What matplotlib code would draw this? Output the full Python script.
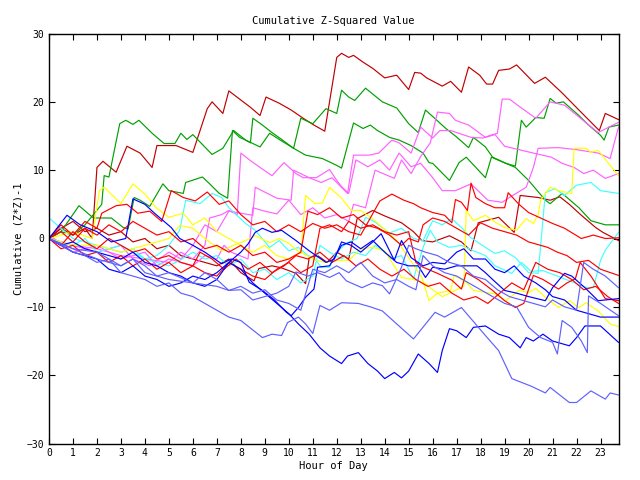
import matplotlib
matplotlib.use('Agg')
import matplotlib.pyplot as plt

# (hour, cumulative value), one list per day-line
darkred_a = [(0, 0), (0.5, 1.5), (1, 0.5), (1.5, 1.5), (1.8, 0), (2.0, 10.4), (2.25, 11.3), (2.8, 9.7), (3.25, 13.5),
             (3.8, 12.5), (4.3, 10.4), (4.5, 13.6), (5.3, 13.6), (6.0, 12.6), (6.6, 19), (6.8, 20), (7.25, 18.3),
             (7.5, 21.6), (8.4, 19.2), (8.8, 18), (9.05, 20.7), (9.6, 19.8), (10.1, 18.8), (10.6, 17.6), (11, 16.7),
             (11.5, 15.7), (12, 26.5), (12.2, 27.1), (12.5, 26.5), (12.7, 26.8), (13.1, 25.8), (13.5, 24.9), (14, 23.5),
             (14.5, 23.9), (15, 21.8), (15.25, 24.3), (15.5, 24.2), (15.75, 23.5), (16.4, 22.3), (16.75, 23),
             (17.2, 21.4), (17.5, 25.1), (17.96, 23.9), (18.25, 22.6), (18.5, 22.6), (18.75, 24.6), (19.2, 24.8),
             (19.5, 25.4), (20.25, 22.7), (20.7, 23.6), (21.4, 21.3), (22.1, 18.8), (22.95, 15.8), (23.2, 18.3),
             (23.75, 17.4)]
darkred_b = [(0, 0), (0.5, 1.5), (1, 2.5), (1.5, 1), (2, 1.5), (2.5, 0.5), (3, 1), (3.5, -0.5), (4, 0), (4.5, -1.5),
             (5, -1), (5.5, -2.5), (6, -3), (6.5, -3.5), (7, -4), (7.5, -3), (8, -5), (8.55, -6.2), (8.75, -4.4),
             (9.3, -4), (9.7, -4.3), (10.3, -5.1), (10.7, -6.6), (10.85, -2.8), (11.2, -2.5), (11.6, -3.5), (12, -2),
             (12.5, -3), (12.85, 2.9), (13.5, 4.1), (14, 3.3), (14.7, 2.3), (15.2, 1), (15.55, -0.3), (16, -0.5),
             (16.7, 0.4), (17.2, -0.5), (17.6, -1.8), (17.9, 2.3), (18.75, 3.1), (19.4, 0.9), (19.65, 6.3), (20.4, 6),
             (20.9, 5.6), (21.3, 6.1), (21.7, 5), (22.2, 3.4), (22.8, 1.6), (23.1, 0.9), (23.75, -0.3)]
green_a = [(0, 0), (0.5, 1), (1, 0.5), (1.5, 2), (2.2, 5), (2.3, 9.2), (2.5, 9), (2.95, 16.8), (3.2, 17.3),
           (3.5, 16.7), (3.75, 17.3), (4.3, 15.4), (4.8, 13.9), (5.25, 13.9), (5.5, 15.4), (5.75, 14.5), (6, 15.2),
           (6.8, 12.3), (7.25, 13.2), (7.7, 15.8), (8.2, 14.4), (8.4, 14), (8.5, 17.6), (8.9, 16.6), (9.3, 15.5),
           (9.7, 14.5), (10.2, 13.2), (10.5, 17.6), (11, 16.8), (11.55, 19), (12, 18.3), (12.2, 21.7), (12.5, 20.7),
           (12.75, 20.2), (13.2, 22), (13.9, 20), (14.5, 19.1), (15, 16.8), (15.4, 15.5), (15.7, 18.8), (16.05, 17.7),
           (16.55, 16.1), (16.95, 15), (17.5, 13.3), (17.7, 14.8), (18.2, 13.4), (18.5, 11.9), (19.05, 11),
           (19.45, 10.6), (19.7, 17.3), (19.9, 16.3), (20.3, 17.7), (20.65, 17.6), (20.9, 20.5), (21.15, 19.8),
           (21.45, 20), (22.1, 18), (22.5, 16.6), (23, 15.1), (23.15, 14.4), (23.35, 16.3), (23.75, 16.6)]
green_b = [(0, 0), (0.5, 1), (1.25, 4.8), (1.85, 3), (2.1, 3), (2.6, 3), (3.1, 1.6), (3.3, 1.4), (3.55, 6), (3.8, 5.6),
           (4.2, 4.7), (4.75, 8), (5, 7), (5.6, 6.6), (5.7, 8.2), (6.4, 9), (6.7, 8), (7.1, 6.6), (7.45, 5.9),
           (7.65, 15.8), (7.95, 14.8), (8.2, 14.4), (8.8, 13.4), (9.2, 15.4), (9.6, 14.5), (10.2, 13.2), (10.7, 12.2),
           (11.4, 11.7), (12, 10.7), (12.2, 10.3), (12.7, 16.9), (13.1, 16.1), (13.4, 16.6), (13.7, 15.8), (14.2, 14.8),
           (14.6, 14.4), (15.1, 13.6), (15.6, 12.5), (15.85, 11.1), (16, 11), (16.7, 8.5), (17.1, 11.1), (17.4, 11.9),
           (18.2, 8.9), (18.45, 11.9), (19.05, 11), (19.45, 10.4), (20, 8.5), (20.7, 5.6), (20.9, 5.1), (21.4, 6.6),
           (22.1, 4.5), (22.6, 2.6), (23.2, 2), (23.75, 2)]
magenta_a = [(0, 0), (1, -1), (2, -2), (3, -1), (3.5, -3), (4.2, -4), (5, -2), (5.5, -3), (6, -1), (6.5, 2), (7, 1),
             (7.5, 4), (8.5, 3.4), (8.6, 7.5), (9.5, 5.9), (10.1, 5.6), (10.2, 10), (10.85, 8.9), (11.35, 8.2),
             (11.8, 8.9), (12.45, 6.6), (12.7, 12.2), (13.35, 12.2), (13.75, 12.5), (14.3, 14.4), (14.6, 14),
             (15.1, 12.5), (15.5, 16.3), (16, 14.7), (16.3, 15.8), (16.75, 15.8), (17.6, 14.8), (18.1, 14.7),
             (18.4, 15.1), (18.7, 15.4), (18.9, 20.4), (19.2, 20.4), (19.7, 19.1), (20.3, 17.6), (20.9, 20),
             (21.5, 19.5), (22.2, 17.5), (22.9, 15.5), (23.75, 17)]
magenta_b = [(0, 0), (1, -1), (2, -1.5), (3, -2.5), (4, -3), (5, -3.5), (5.5, -2), (6, -3), (6.5, -1), (6.7, 3),
             (7.2, 3.5), (7.5, 4.1), (7.85, 3.5), (8, 12.5), (8.4, 11.4), (8.8, 10.4), (9.3, 9.2), (9.8, 11.1),
             (10.3, 9.5), (10.6, 8.9), (11.15, 8.9), (11.7, 10.1), (12, 8.5), (12.2, 7.6), (12.5, 6.6), (12.8, 11.5),
             (13.3, 10.5), (13.8, 11.5), (14.2, 10), (14.6, 12.5), (15.1, 10.5), (15.5, 11), (16, 8.9), (16.4, 7),
             (16.95, 7), (17.6, 8), (18.3, 5.6), (18.9, 5.3), (19.2, 6), (19.9, 7.5), (20.2, 10.4), (20.4, 13.2),
             (21.25, 13.3), (22, 13), (22.9, 12.5), (23.4, 11.7), (23.75, 16.3)]
magenta_c = [(0, 0.5), (1, -2), (2, -1), (3, -3), (4, -2), (4.5, -4), (5, -3), (6, -4), (6.5, -2.5), (7, -3),
             (7.3, -1), (7.6, -2), (8.3, -3), (8.5, 4.5), (9, 4), (9.5, 3.6), (10, 5.6), (10.5, 3.5), (11, 4.5),
             (11.5, 3), (12, 3.5), (12.5, 2.5), (12.7, 5), (13.2, 4.5), (13.6, 10), (14, 9.4), (14.4, 8.8),
             (14.7, 11.5), (15.1, 9.5), (15.5, 12), (15.9, 14), (16.2, 18.5), (16.7, 18.3), (16.95, 17.3), (17.5, 16.6),
             (18.2, 14.8), (18.6, 15.2), (19, 13.5), (19.6, 13), (20.2, 12.5), (20.95, 11.9), (21.4, 11), (21.9, 10.4),
             (22.3, 9.5), (22.7, 10), (23.2, 8.8), (23.75, 9.5)]
cyan_a = [(0, 3), (0.5, 1.5), (1, 0), (2, -1), (3, -2), (3.5, -1.5), (4, -3), (4.5, -2.5), (5, -1), (5.45, 1.2),
          (5.7, 5.6), (6.3, 5.1), (6.8, 6.6), (7.2, 6), (7.5, 4.5), (8.2, 2.2), (8.6, 1.2), (9.2, -1.3), (9.6, -0.3),
          (10, -1.8), (10.4, -1.3), (10.8, -2.5), (11.05, -2.8), (11.35, -4.2), (11.7, -4.2), (12, -2), (12.4, -0.7),
          (12.85, 0), (13.2, 3.1), (13.6, 2.4), (14.2, 0.8), (14.7, 1.5), (15.2, 0), (15.6, -0.3), (16, 2.6),
          (16.4, 2), (16.8, 2.9), (17.2, 1.6), (17.6, 0.1), (18.2, -1.3), (18.6, -2.2), (19, -1.8), (19.45, -2.8),
          (20, -5), (20.4, -5.1), (20.7, 6.7), (21.1, 7.3), (21.5, 6.3), (22, 7.8), (22.6, 8.2), (23, 7),
          (23.75, 6.6)]
cyan_b = [(0, 0), (1, -1), (1.5, 0), (2, -2), (3, -1), (4, -3), (5, -4), (5.45, -3.2), (6, -2), (6.5, -3), (7, -2.5),
          (7.5, -4), (8, -3), (8.5, -5), (9, -4.5), (9.5, -6), (10, -5), (10.5, -6.5), (11, -5.5), (11.3, -1),
          (11.7, -2), (12.2, -3), (12.7, -2), (13.2, -2.5), (13.6, -1), (14, -2), (14.25, -3), (14.7, -2.5),
          (15.2, -5.9), (15.6, -1.3), (15.9, 1.2), (16.2, -0.5), (16.7, -1.3), (17.2, -1), (17.7, -1.8), (18.2, -2.5),
          (18.6, -4), (19.3, -5.1), (19.7, -3.5), (20.1, -4.8), (20.6, -4.7), (21.2, -5.5), (22, -6.6), (22.4, -7.2),
          (22.7, -7.2), (23, -3.2), (23.2, -1.7), (23.75, 0.9)]
yellow_a = [(0, 0), (1, 1), (1.8, 0), (2.1, 7), (2.3, 7.5), (3, 5.1), (3.5, 8), (4, 6.5), (4.5, 4.4), (5, 3.1),
            (5.6, 3.7), (6, 2), (6.5, 3), (7, 1), (7.5, 0), (8, -1), (8.5, -2), (9, -1), (9.5, -2.5), (10, -3),
            (10.5, -2), (11, -3), (11.5, -3.5), (12, -3.2), (12.5, -3.2), (13, -1.5), (13.5, -1.3), (14, -1.8),
            (14.7, -5.7), (15.2, -6), (15.7, -6.6), (16, -7.5), (16.4, -8.5), (17.3, -7), (17.4, 4.1), (17.7, 2.6),
            (18.2, 3.4), (18.6, 2.4), (19, 1.6), (19.5, 1.2), (19.9, 2.9), (20.2, 2.2), (20.4, 3.5), (20.5, 5.6),
            (20.9, 7.5), (21.25, 7), (21.8, 6.6), (21.9, 13.2), (22.4, 13.2), (22.6, 12.6), (22.9, 12.9),
            (23.75, 9.2)]
yellow_b = [(0, 0), (1, -1), (2, -1), (3, -2), (4, -1), (5, 0), (5.45, 1.9), (6, 1.5), (6.5, 0), (7.2, -1.8),
            (7.7, -1), (8.2, -0.3), (8.6, 0.4), (9.2, -0.6), (9.6, 0), (10, -0.7), (10.5, -2.2), (10.7, 6.3),
            (11.1, 5.1), (11.4, 5.2), (11.7, 7.5), (12.2, 5.9), (12.6, 4.1), (13, 4.1), (13.6, 2.6), (14.5, -0.3),
            (15, -2.8), (15.55, -5.7), (15.85, -9.1), (16.2, -8), (16.75, -7.6), (16.9, -5.4), (17.4, -6.4),
            (17.7, -7.6), (18.6, -8.1), (19.05, -9.1), (19.6, -7.6), (20, -7.9), (20.3, -7.3), (20.7, -8.6),
            (21.25, -10.1), (21.7, -9.1), (22.1, -10.1), (22.4, -9.4), (22.9, -10.6), (23.4, -12.5), (23.75, -12.9)]
red_a = [(0, 0), (0.5, 2), (1, 0.5), (1.5, 2.5), (2, 1.5), (2.2, 3.7), (2.8, 4.8), (3.25, 5), (3.7, 3.7), (4.2, 4),
         (4.7, 2.5), (5.1, 7), (5.6, 6), (6.1, 5.5), (6.6, 6.8), (7.1, 5), (7.5, 5.5), (8, 3.5), (8.5, 2), (9, 2.5),
         (9.5, 1), (10, 2), (10.5, 1), (11, 2.2), (11.5, 1.5), (12, 2), (12.5, 1), (13, 0.5), (13.4, 3), (13.8, 5.5),
         (14.3, 6.5), (14.8, 5.6), (15.2, 5.1), (15.5, 4.5), (16, 3.8), (16.5, 3.4), (16.8, 2.3), (16.95, 5.7),
         (17.2, 5.3), (17.45, 4.1), (17.6, 8.1), (17.8, 6), (18.2, 5.1), (18.6, 4.5), (19, 4.5), (19.15, 6.7),
         (19.6, 5), (20, 3.8), (20.5, 3), (21, 2.2), (21.5, 1.5), (22.2, 0), (22.7, 0.5), (23.2, 0), (23.75, 0.1)]
red_b = [(0, 0), (0.5, -1), (1, 1), (1.5, -0.5), (2, -1.5), (2.5, 0), (3, -1), (3.5, -2), (4, -1.5), (4.5, -3),
         (5, -2.5), (5.5, -3.5), (6, -4), (6.5, -5), (7, -5.5), (7.5, -3.5), (8, -4.5), (8.5, -5.5), (9, -6),
         (9.5, -4.5), (10, -3.5), (10.5, -5), (11, -4), (11.3, 1.5), (11.7, 2), (12.2, 1), (12.5, 2.5), (13, 1.5),
         (13.5, 2), (14, 1), (14.5, 0.5), (15, 1), (15.3, -3.5), (15.6, -4.2), (16.2, -5.1), (16.8, -6.1),
         (17.2, -7.4), (17.4, -5), (17.9, -6), (18.5, -7.6), (19, -9.1), (19.45, -10.1), (19.8, -9.5), (20.2, -5.4),
         (20.6, -6), (21.25, -7.4), (21.6, -6.5), (21.95, -5.9), (22.15, -3.5), (22.6, -5.5), (23.2, -8.8),
         (23.75, -9.1)]
red_c = [(0, 0), (0.5, 1), (1, -0.5), (1.5, 1.5), (2, 0.5), (2.5, 2), (3, 1), (3.5, 2.5), (4, 1.5), (4.5, 0.5),
         (5, 1), (5.5, -0.5), (6, 0), (6.5, -1.5), (7, -1), (7.5, -2), (8, -1), (8.5, -2.5), (9, -2), (9.5, -3.5),
         (10, -3), (10.5, -2), (10.8, 4), (11.2, 3.5), (11.7, 4.5), (12.2, 3), (12.7, 3.5), (13.2, 2), (13.7, 1.5),
         (14.2, 0.5), (14.7, -1), (15, 0), (15.4, -0.5), (15.6, 2), (16, 3), (16.5, 2.5), (17, 1.5), (17.5, 0.5),
         (18, 2.3), (18.5, 1.5), (19, 1), (19.5, 0.5), (20, -0.5), (20.5, -1), (20.8, -1.3), (21.2, -2),
         (21.6, -2.5), (22, -3.5), (22.5, -3.2), (23, -4.5), (23.75, -5.4)]
red_d = [(0, 0), (0.5, -1.5), (1, -1), (1.5, -2.5), (2, -2), (2.5, -3.5), (3, -2.5), (3.5, -4), (4, -3), (4.5, -4.5),
         (5, -3.5), (5.5, -5), (6, -4), (6.3, -2), (6.8, -3), (7.3, -4.5), (7.8, -3), (8.3, -4.5), (8.8, -3.5),
         (9.3, -5), (9.8, -4), (10.3, -2.5), (10.8, -3), (11.3, -2), (11.8, -3.5), (12.3, -2.5), (12.8, -4),
         (13.3, -3), (13.8, -4.5), (14.3, -5.5), (14.8, -4.5), (15.3, -6), (15.8, -7), (16.3, -6.5), (16.8, -8),
         (17.3, -9), (17.8, -8.5), (18.3, -9.5), (18.8, -8), (19.3, -6.5), (19.8, -7.5), (20.3, -3.5), (20.8, -4.5),
         (21.3, -5), (21.8, -6), (22.3, -7.5), (22.8, -7), (23.3, -8.5), (23.75, -9.5)]
blue_a = [(0, 0), (0.5, -1), (1, -2), (1.5, -2.5), (2, -3), (2.5, -4.5), (3, -5), (3.5, -4), (4, -5.5), (4.5, -6),
          (5, -7), (5.5, -6.5), (6, -5.5), (6.5, -6), (7, -5), (7.5, -3.5), (8, -4.5), (8.5, -6.5), (9, -8),
          (9.5, -9.5), (10, -11), (10.4, -12.5), (10.85, -14), (11.3, -16), (11.7, -17.2), (12.2, -18.3),
          (12.45, -17.2), (12.9, -16.7), (13.3, -18.3), (13.7, -19.4), (14, -20.5), (14.4, -19.6), (14.7, -20.4),
          (15, -19.4), (15.4, -16.9), (15.85, -18.3), (16.2, -19.6), (16.4, -16.4), (16.7, -13.2), (17, -13.5),
          (17.4, -14.5), (17.7, -13), (18.2, -12.8), (18.75, -14), (19.2, -14.5), (19.65, -16), (19.9, -14.5),
          (20.2, -15), (20.6, -14), (21, -15), (21.7, -15.7), (22, -14.5), (22.35, -12.8), (23, -12.8),
          (23.75, -15.2)]
blue_b = [(0, 0), (0.75, 3.4), (1.3, 2), (2, 1), (2.6, -0.5), (3.2, 0), (3.5, 5.8), (4, 5), (4.4, 3.7), (5.1, 1.6),
          (5.45, 0), (6, -1), (6.5, -2), (7.2, -3.7), (7.6, -3), (8, -3.5), (8.35, -6.4), (8.9, -7.6), (9.4, -9),
          (9.9, -10.8), (10.1, -11.3), (10.4, -10.1), (10.7, -8.6), (11.05, -7.4), (11.2, -4.2), (11.7, -4),
          (12.2, -1), (12.6, -0.5), (13, -1.5), (13.5, -0.3), (14, -2), (14.5, -3.5), (15, -4), (15.4, -4),
          (15.7, -5.7), (16, -4.2), (16.5, -4.5), (17, -4), (17.85, -4), (18.2, -5), (18.5, -6), (19, -7.6),
          (19.5, -8), (20, -8.5), (20.7, -9.1), (21, -7.2), (21.5, -5.1), (21.8, -5.5), (22.35, -7.2), (22.9, -9.1),
          (23.75, -8.8)]
blue_c = [(0, 0), (0.5, -1), (1, -0.5), (1.5, -1.5), (2, -2), (2.5, -2.5), (3, -3), (3.5, -2), (4, -3.5), (4.5, -4),
          (5, -5), (5.5, -5.5), (6, -6.5), (6.5, -7), (7, -6), (7.5, -3.5), (8, -2), (8.3, -0.8), (8.6, 0.9),
          (8.9, 1.5), (9.3, 0.9), (9.7, 1.2), (10.3, -0.3), (10.85, -1.8), (11.55, -3.5), (11.9, -3), (12.2, -0.5),
          (12.6, -1), (13, -2), (13.5, -0.5), (13.85, 0.7), (14.4, -3.2), (14.7, -0.3), (15.1, -2.8), (15.6, -4),
          (16, -3.5), (16.5, -3.7), (17, -2), (17.3, -1.5), (17.7, -3), (18.2, -3), (18.6, -4.5), (19, -5),
          (19.4, -4), (19.8, -5.5), (20.3, -6.5), (20.7, -7.5), (21, -8.5), (21.5, -9), (22, -10.5), (22.5, -11),
          (23, -11.5), (23.75, -11.5)]
lightblue_a = [(0, 0), (0.5, -1), (1, -2), (1.5, -2.5), (2, -3.5), (2.5, -3), (3, -5), (3.5, -5.5), (4, -6),
               (4.5, -7), (5, -6.5), (5.5, -8), (6, -8.5), (6.5, -9.5), (7, -10.5), (7.5, -11.5), (8, -12),
               (8.9, -14.5), (9.3, -14), (9.7, -14.2), (9.95, -12.3), (10.4, -11.5), (10.7, -12.5), (11, -13.9),
               (11.3, -9.8), (11.7, -10.5), (12.2, -9.4), (12.9, -9.5), (13.4, -10), (13.9, -10.6), (14.5, -12.5),
               (15.2, -14.7), (16.1, -10.8), (16.5, -11.5), (17.2, -10.1), (18.2, -14.2), (18.75, -16.4),
               (19.3, -20.5), (20.1, -21.6), (20.7, -22.6), (20.9, -21.8), (21.7, -24), (22, -24), (22.6, -22.3),
               (23.2, -23.5), (23.4, -22.6), (23.75, -22.9)]
lightblue_b = [(0, 0), (1, -1.5), (2, -3), (3, -4), (3.5, -3), (4, -5), (5, -6), (6, -6.5), (6.5, -5), (7, -6),
               (7.5, -7.6), (8, -7), (8.5, -8), (9, -7.5), (9.5, -9), (10, -9.5), (10.5, -10.5), (11, -4.5),
               (11.5, -5), (12, -4), (12.5, -5), (13, -3.5), (13.5, -5.5), (14, -6.5), (14.5, -6), (15, -7),
               (15.3, -7.5), (15.6, -2.5), (16, -4), (16.5, -5), (17, -5.5), (17.5, -6.5), (18, -7.5), (18.5, -8.5),
               (19, -9.5), (19.5, -10), (20, -13), (20.5, -14.5), (21, -15.2), (21.2, -16.9), (21.4, -12),
               (21.8, -13), (22.2, -15), (22.45, -16.7), (22.5, -8.4), (23, -9.5), (23.75, -11.3)]
lightblue_c = [(0, 0), (1, -1.5), (2, -2), (3, -4), (3.5, -3), (4, -4), (4.5, -5.5), (5, -5), (6, -6.5), (7, -7),
               (7.5, -7.6), (8, -7.5), (8.5, -9), (9, -8.5), (9.5, -8), (10, -7), (10.3, -4.9), (10.8, -5.5),
               (11.2, -5), (11.7, -5.7), (12.1, -5), (12.4, -6.2), (13.05, -7.2), (13.5, -6.5), (13.9, -6.9),
               (14.2, -8.1), (14.45, -6.2), (14.7, -4.2), (15, -1), (15.3, -1.5), (15.7, -2), (16.2, -2.5),
               (16.7, -3.5), (17.2, -4), (17.7, -5.5), (18.2, -6), (18.7, -7.5), (19.2, -8.5), (19.7, -9),
               (20.2, -9.5), (20.7, -10), (21, -9), (21.5, -10), (22, -10.5), (22.3, -3.5), (22.7, -4.5),
               (23.2, -5.5), (23.75, -7.2)]

series = [darkred_a, darkred_b, green_a, green_b, magenta_a, magenta_b, magenta_c, cyan_a, cyan_b,
          yellow_a, yellow_b, red_a, red_b, red_c, red_d, blue_a, blue_b, blue_c,
          lightblue_a, lightblue_b, lightblue_c]
colors = ['#c00000', '#c00000', '#00a000', '#00a000', '#ff60ff', '#ff60ff', '#ff60ff', '#40ffff', '#40ffff',
          '#ffff00', '#ffff00', '#ff0000', '#ff0000', '#ff0000', '#ff0000', '#0000ff', '#0000ff', '#0000ff',
          '#6060ff', '#6060ff', '#6060ff']

plt.rcParams['font.family'] = ['DejaVu Sans Mono']
fig = plt.figure(figsize=(6.4, 4.8), dpi=100)
ax = fig.add_axes([49 / 640, 1 - 443.5 / 480, 569.5 / 640, 410 / 480])

for pts, c in zip(series, colors):
    hrs = [p[0] for p in pts]
    vals = [p[1] for p in pts]
    ax.plot(hrs, vals, color=c, linewidth=0.85)

ax.set_xlim(0, 23.75)
ax.set_ylim(-30, 30)
ax.set_xticks(range(24))
ax.set_yticks(range(-30, 31, 10))
ax.tick_params(direction='in', top=True, right=True, labelsize=7, length=4, width=0.8)
for s in ax.spines.values():
    s.set_linewidth(1.0)
ax.set_title('Cumulative Z-Squared Value', fontsize=7.5, pad=7)
ax.set_xlabel('Hour of Day', fontsize=7.5, labelpad=2)
ax.set_ylabel('Cumulative (Z*Z)-1', fontsize=7.5, labelpad=2)

fig.savefig('out.png', dpi=100)
